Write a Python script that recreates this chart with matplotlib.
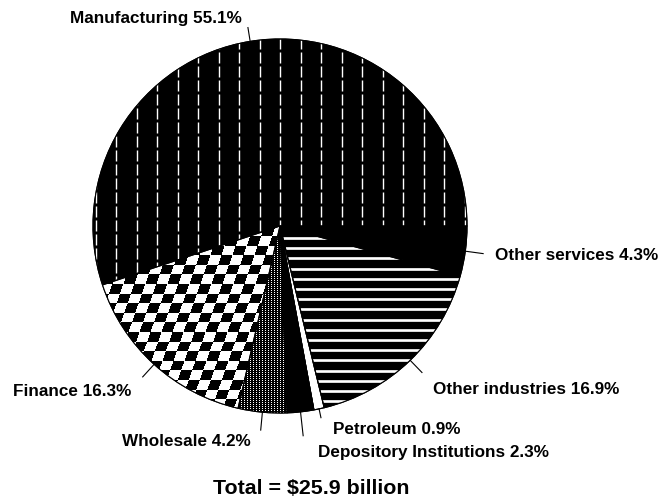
import numpy as np
import matplotlib
matplotlib.use("Agg")
import matplotlib.pyplot as plt
from matplotlib.lines import Line2D
from matplotlib.patches import Wedge

# ---- data -------------------------------------------------------------
categories = ["Manufacturing", "Other services", "Other industries", "Petroleum",
              "Depository Institutions", "Wholesale", "Finance"]
shares = [55.1, 4.3, 16.9, 0.9, 2.3, 4.2, 16.3]
total_billion = 25.9

# ---- layout (pixel-like data space) -----------------------------------
W, H = 665, 499
plt.rcParams["lines.scale_dashes"] = False
fig = plt.figure(figsize=(W / 100, H / 100), dpi=100)
ax = fig.add_axes([0, 0, 1, 1])

cx, cy, R = 280, H - 226, 187
fills = ["black", "black", "black", "white", "black", "white", "white"]

start = 360 * shares[0] / sum(shares)
wedges, _ = ax.pie(shares, startangle=start, counterclock=False,
                   center=(cx, cy), radius=R, colors=fills,
                   wedgeprops=dict(edgecolor="black", linewidth=0.8),
                   frame=False)
ax.set_xlim(0, W)
ax.set_ylim(0, H)
ax.set_aspect("equal")
ax.axis("off")

PX = 0.72  # points per pixel at 100 dpi

# Manufacturing: columns of white dashes on black
w = wedges[0]
for x in cx + 20.5 * np.arange(-10, 10):
    ln = Line2D([x, x], [cy - R, cy + R], color="white", lw=1.4 * PX,
                dashes=(11 * PX, 3 * PX), zorder=3)
    ax.add_line(ln)
    ln.set_clip_path(w)

# Other industries: horizontal white stripes on black
w = wedges[2]
for y_pix in np.arange(238, 420, 10.2):
    y = H - y_pix
    ln = Line2D([cx - 5, cx + R], [y, y], color="white", lw=2.7 * PX, zorder=3)
    ax.add_line(ln)
    ln.set_clip_path(w)

# Finance: slanted checkerboard, built per pixel
w = wedges[6]
fh, fw = 200, 200
yy, xx = np.indices((fh, fw))
cell_w, cell_h, shear = 11.0, 9.6, 0.35
checker = ((np.floor((xx + shear * yy) / cell_w) + np.floor(yy / cell_h)) % 2)
im = ax.imshow(checker.astype(float), cmap="gray", vmin=0, vmax=1,
               interpolation="nearest",
               extent=(cx - R - 5, cx - R - 5 + fw, cy - fh, cy),
               zorder=3, aspect="auto")
im.set_clip_path(w)

# Wholesale: fine dark stipple
w = wedges[5]
sh, sw = 200, 80
ii, jj = np.indices((sh, sw))
stip = np.where((ii % 2 == 0) & (jj % 3 == 0), 1.0, 0.0)
im2 = ax.imshow(stip, cmap="gray", vmin=0, vmax=1, interpolation="nearest",
                extent=(cx - 60, cx - 60 + sw, cy - sh, cy), zorder=3,
                aspect="auto")
im2.set_clip_path(w)

# wedge outlines above the textures
for w in wedges:
    ax.add_patch(Wedge((cx, cy), R, w.theta1, w.theta2, facecolor="none",
                       edgecolor="black", linewidth=0.8, zorder=4))

# ---- leader lines and labels -----------------------------------------
leader_ext = [14, 18, 17, 9, 24, 18, 17]
label_pos = [(70, 18), (495, 255), (433, 390), (333, 430), (318, 452),
             (122, 442), (13, 391)]
font = dict(family="Liberation Sans", fontsize=12.3, fontweight="bold",
            color="black")
for w, ext, name, val, (lx, ly) in zip(wedges, leader_ext, categories, shares,
                                        label_pos):
    a = np.deg2rad((w.theta1 + w.theta2) / 2)
    r0, r1 = R, R + ext
    ax.plot([cx + r0 * np.cos(a), cx + r1 * np.cos(a)],
            [cy + r0 * np.sin(a), cy + r1 * np.sin(a)],
            color="black", lw=0.8, zorder=5)
    ax.text(lx, H - ly, f"{name} {val}%", ha="left", va="center", **font)

ax.text(311, H - 488, f"Total = ${total_billion} billion", ha="center",
        va="center", family="Liberation Sans", fontsize=15.4,
        fontweight="bold", parse_math=False)

fig.savefig("out.png", dpi=100)
